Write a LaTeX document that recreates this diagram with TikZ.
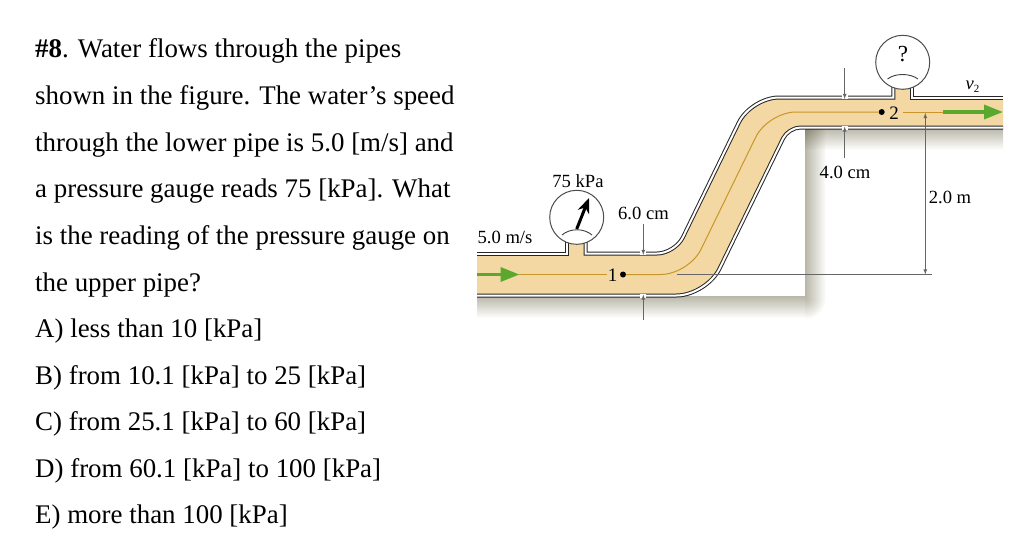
\documentclass[tikz,border=0pt]{standalone}
\usepackage{fontspec}
\setmainfont{Liberation Serif}
\usetikzlibrary{arrows,arrows.meta}
\definecolor{pipesand}{HTML}{F3D8A4}
\definecolor{flowline}{HTML}{C8962A}
\definecolor{flowgreen}{HTML}{5BA82E}
\definecolor{shadowgray}{HTML}{B9B7A8}
\definecolor{dimgray}{HTML}{666666}
\tikzset{
qline/.style={anchor=base west, inner sep=0pt, font=\fontsize{26.9}{30}\selectfont},
figlabel/.style={inner sep=0pt, font=\fontsize{18.6}{20}\selectfont},
pipewall/.style={draw=black!85, line width=1pt, double=white, double distance=2pt},
dimline/.style={draw=dimgray, line width=0.8pt, ->, >=latex},
gaugeface/.style={circle, draw=black!70, fill=white, line width=1pt, minimum size=54pt, inner sep=0pt},
dotmark/.style={circle, fill=black, inner sep=0pt, minimum size=6pt},
flowarrow/.style={draw=flowgreen, line width=3.5pt, -{Triangle[length=19pt,width=14pt]}}
}
\begin{document}
\begin{tikzpicture}[x=1pt, y=-1pt]
\useasboundingbox (0,0) rectangle (1024,539);

% question text
\node[qline] (q1) at (35,57) {\textbf{\#8}. Water flows through the pipes};
\node[qline] (q2) at (35,104) {shown in the figure. The water’s speed};
\node[qline] (q3) at (35,151) {through the lower pipe is 5.0 [m/s] and};
\node[qline] (q4) at (35,197) {a pressure gauge reads 75 [kPa]. What};
\node[qline] (q5) at (35,244) {is the reading of the pressure gauge on};
\node[qline] (q6) at (35,291) {the upper pipe?};
\node[qline] (q7) at (35,337) {A) less than 10 [kPa]};
\node[qline] (q8) at (35,384) {B) from 10.1 [kPa] to 25 [kPa]};
\node[qline] (q9) at (35,430) {C) from 25.1 [kPa] to 60 [kPa]};
\node[qline] (q10) at (35,477) {D) from 60.1 [kPa] to 100 [kPa]};
\node[qline] (q11) at (35,523) {E) more than 100 [kPa]};

% shadows
\shade[top color=shadowgray, bottom color=white] (477,296) rectangle (805,318);
\shade[left color=shadowgray, right color=white] (805,128) rectangle (826,298);
\begin{scope}
\clip (805,298) rectangle (826,319);
\shade[inner color=shadowgray, outer color=white] (805,298) circle (21);
\end{scope}
\begin{scope}[blend mode=multiply]
\shade[top color=shadowgray, bottom color=white] (805,128) rectangle (1003,150);
\end{scope}

% pipe
\fill[pipesand] (477,253.5) [rounded corners=18pt] -- (675,253.5) [rounded corners=28pt] -- (751,97.5)
  [sharp corners] -- (1003,97.5) -- (1003,127.5) [rounded corners=12pt] -- (788.4,127.5)
  [rounded corners=30pt] -- (706.4,295.5) [sharp corners] -- (477,295.5) -- cycle;
\fill[pipesand] (567.4,240) rectangle (585.5,256);
\fill[pipesand] (893.4,84) rectangle (912,100);

% walls
\draw[pipewall] (477,253.5) -- (567.4,253.5) -- (567.4,241);
\draw[pipewall] (585.5,241) -- (585.5,253.5) [rounded corners=18pt] -- (675,253.5) [rounded corners=28pt] -- (751,97.5)
  [sharp corners] -- (893.4,97.5) -- (893.4,85);
\draw[pipewall] (912,85) -- (912,97.5) -- (1003,97.5);
\draw[pipewall] (477,295.5) [rounded corners=30pt] -- (706.4,295.5) [rounded corners=12pt] -- (788.4,127.5)
  [sharp corners] -- (1003,127.5);

% gauges
\node[gaugeface] (gauge1) at (576.7,217.3) {};
\node[gaugeface] (gauge2) at (902.7,62.3) {};
\draw[black!75, line width=0.9pt] (562,235) .. controls (570,228) and (584,228) .. (592,235);
\draw[black!75, line width=0.9pt] (887.5,79) .. controls (895,73) and (910,73) .. (918,79);
\coordinate (needle1) at (576.7,229);
\coordinate (needle2) at (589,198);
\draw[line width=3pt, -{Stealth[length=15pt,width=12pt]}] (needle1) -- (needle2);
\node[inner sep=0pt, font=\fontsize{23}{26}\selectfont] (what) at (903,54) {?};

% flow line and points
\node[dotmark] (pt1) at (623,274.5) {};
\node[figlabel, font=\fontsize{19}{20}\selectfont] (num1) at (612.7,275) {1};
\node[dotmark] (pt2) at (881.7,112) {};
\node[figlabel, font=\fontsize{19}{20}\selectfont] (num2) at (894,113) {2};
\coordinate (flowa) at (519,274.5);
\coordinate (flowb) at (607,274.5);
\coordinate (flowc) at (943,112);
\coordinate (flowd) at (903,112);
\draw[flowline, line width=1pt] (flowa) -- (flowb);
\draw[flowline, line width=1pt] (pt1) [rounded corners=28pt] -- (688.7,274.5) -- (768,112) [sharp corners] -- (pt2);
\draw[flowline, line width=1pt] (flowd) -- (flowc);
\coordinate (inleft) at (477,274.5);
\coordinate (intip) at (519.5,274.5);
\coordinate (outtip) at (1003,112);
\draw[flowarrow] (inleft) -- (intip);
\draw[flowarrow] (flowc) -- (outtip);

% dimensions
\coordinate (d6a) at (643.3,224);
\coordinate (d6b) at (643.3,255);
\coordinate (d6c) at (643.3,320);
\coordinate (d6d) at (643.3,294.5);
\coordinate (d4a) at (844.7,68);
\coordinate (d4b) at (844.7,99);
\coordinate (d4c) at (844.7,158);
\coordinate (d4d) at (844.7,126.5);
\fill[white] (640.3,251) rectangle (646.3,255);
\fill[white] (640.3,294) rectangle (646.3,298);
\fill[white] (841.7,95) rectangle (847.7,99);
\fill[white] (841.7,126) rectangle (847.7,130);
\draw[dimline] (d6a) -- (d6b);
\draw[dimline] (d6c) -- (d6d);
\draw[dimline] (d4a) -- (d4b);
\draw[dimline] (d4c) -- (d4d);
\coordinate (hta) at (677,274.7);
\coordinate (htb) at (932,274.7);
\coordinate (htd) at (925.3,113);
\coordinate (hte) at (925.3,274.5);
\draw[draw=dimgray, line width=0.8pt] (hta) -- (htb);
\draw[dimline, <->] (htd) -- (hte);

% labels
\node[figlabel] (p1lab) at (578,181) {75 kPa};
\node[figlabel] (v1lab) at (505,237) {5.0 m/s};
\node[figlabel] (d6lab) at (643.5,213) {6.0 cm};
\node[figlabel] (d4lab) at (845,172) {4.0 cm};
\node[figlabel] (hlab) at (950,197) {2.0 m};
\node[figlabel] (v2lab) at (972.7,87) {\textit{v}\textsubscript{\fontsize{11}{12}\selectfont 2}};
\end{tikzpicture}
\end{document}
